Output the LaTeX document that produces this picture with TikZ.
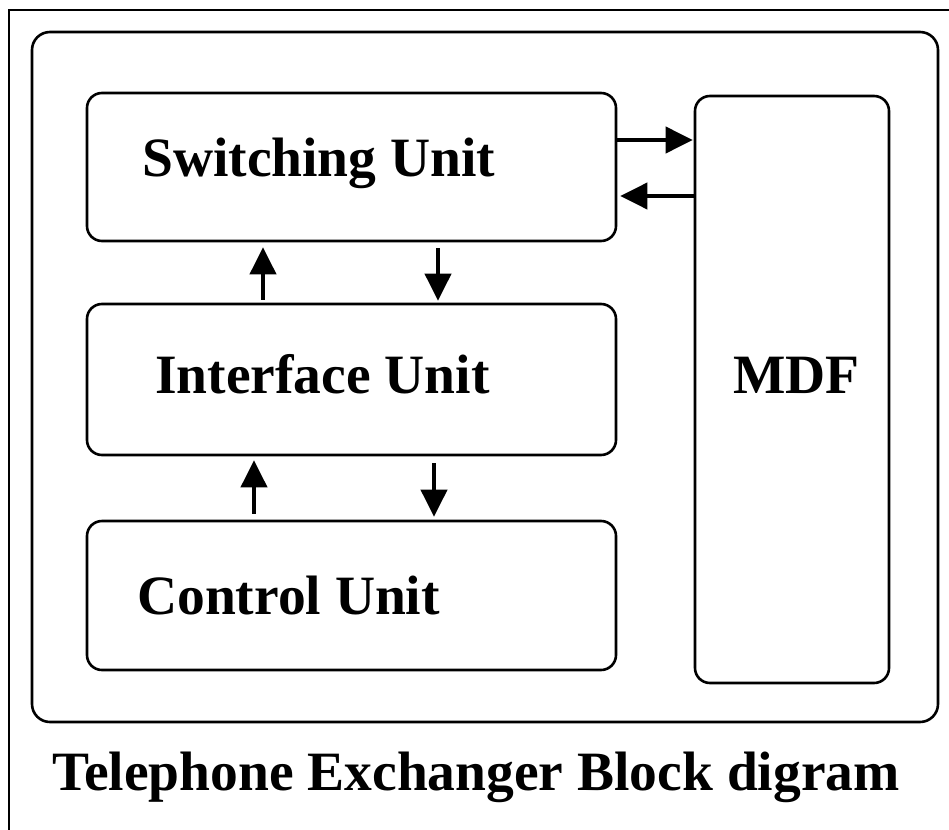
\documentclass[tikz,border=0pt]{standalone}
\usepackage{fontspec}
\setmainfont{Liberation Serif}
\usetikzlibrary{arrows.meta}
\begin{document}
\begin{tikzpicture}[x=1pt,y=-1pt,
  box/.style={draw=black,line width=2.6pt,rounded corners=15pt,inner sep=0pt},
  frame/.style={draw=black,line width=2.6pt,rounded corners=18pt,inner sep=0pt},
  lbl/.style={inner sep=0pt,anchor=base west,font=\fontsize{55.5}{60}\selectfont\bfseries},
  arr/.style={line width=4pt,-{Triangle[length=27pt,width=26pt]}}]
\useasboundingbox (0,0) rectangle (949,829);
% outer frame (top and left only)
\coordinate (tl) at (9,10);
\coordinate (tr) at (952,10);
\coordinate (bl) at (9,832);
\draw[line width=2pt] (tr) -- (tl) -- (bl);
% inner frame
\node[frame,minimum width=906pt,minimum height=690pt] (fr) at (485,377) {};
% boxes
\node[box,minimum width=529pt,minimum height=148pt] (sw) at (351.5,167) {};
\node[box,minimum width=529pt,minimum height=151pt] (ifc) at (351.5,379.5) {};
\node[box,minimum width=529pt,minimum height=149pt] (ctl) at (351.5,595.5) {};
\node[box,minimum width=194pt,minimum height=587pt] (mdf) at (792,389.5) {};
% labels
\node[lbl] (swl) at (142,176) {Switching Unit};
\node[lbl] (ifcl) at (155,393) {Interface Unit};
\node[lbl] (ctll) at (137,614) {Control Unit};
\node[lbl] (mdfl) at (733,393) {MDF};
\node[lbl] (title) at (52,790) {Telephone Exchanger Block digram};
% helper coordinates
\coordinate (h1) at (0,140);
\coordinate (h2) at (0,196);
\coordinate (v1) at (263,0);
\coordinate (v2) at (438,0);
\coordinate (v3) at (254,0);
\coordinate (v4) at (434,0);
% arrows
\draw[arr,shorten >=1pt] (sw.east |- h1) -- (mdf.west |- h1);
\draw[arr,shorten >=3pt] (mdf.west |- h2) -- (sw.east |- h2);
\draw[arr,shorten <=3pt,shorten >=5pt] (ifc.north -| v1) -- (sw.south -| v1);
\draw[arr,shorten <=6pt,shorten >=2pt] (sw.south -| v2) -- (ifc.north -| v2);
\draw[arr,shorten <=6pt,shorten >=4pt] (ctl.north -| v3) -- (ifc.south -| v3);
\draw[arr,shorten <=7pt,shorten >=3pt] (ifc.south -| v4) -- (ctl.north -| v4);
\end{tikzpicture}
\end{document}
